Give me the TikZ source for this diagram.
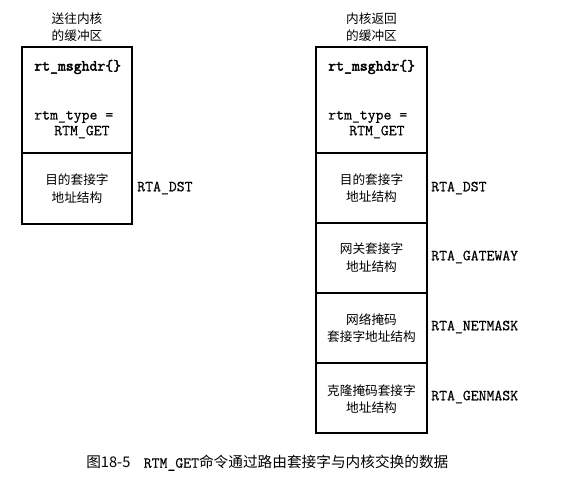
\documentclass[tikz,border=0pt]{standalone}
\usepackage{fontspec}
\newfontfamily\cjk{Noto Sans CJK SC}
\newfontfamily\codefont[FakeBold=0.6]{Latin Modern Mono}
\newfontfamily\codebold[FakeBold=2.5]{Latin Modern Mono}
\tikzset{
  cn/.style={font=\cjk\fontsize{9.5}{13}\selectfont, inner sep=0.75pt, align=center},
  code/.style={font=\codefont\fontsize{11.5}{12}\selectfont, anchor=west, inner sep=0.75pt},
  part/.style={line width=0.9}
}
\begin{document}
\begin{tikzpicture}[x=0.75pt,y=0.75pt,yscale=-1,xscale=1]
\path [use as bounding box] (0,0) rectangle (569,484);

%Shape: Rectangle (left buffer)
\draw [part] (22,47) rectangle (132,153) ;
\draw [part] (22,153) rectangle (132,224) ;
%Shape: Rectangle (right buffer)
\draw [part] (316,47) rectangle (427,153) ;
\draw [part] (316,153) rectangle (427,223) ;
\draw [part] (316,223) rectangle (427,293) ;
\draw [part] (316,293) rectangle (427,363) ;
\draw [part] (316,363) rectangle (427,433) ;

% Text Node
\node [cn] (lhead) at (77,27) {送往内核\\的缓冲区};
% Text Node
\node [cn] (rhead) at (371.5,27) {内核返回\\的缓冲区};

% Text Node
\node [code] (lmsg) at (33,67) {\codebold rt\_msghdr\{\}};
% Text Node
\node [code] (ltype) at (33,117) {rtm\_type =};
% Text Node
\node [code] (lget) at (53,132) {RTM\_GET};
% Text Node
\node [cn] (ldst) at (77,188.5) {目的套接字\\地址结构};
% Text Node
\node [code] (ldstlab) at (136,188) {RTA\_DST};

% Text Node
\node [code] (rmsg) at (327,67) {\codebold rt\_msghdr\{\}};
% Text Node
\node [code] (rtype) at (327,117) {rtm\_type =};
% Text Node
\node [code] (rget) at (348,132) {RTM\_GET};
% Text Node
\node [cn] (rdst) at (371.5,188) {目的套接字\\地址结构};
% Text Node
\node [code] (rdstlab) at (430,188) {RTA\_DST};
% Text Node
\node [cn] (rgw) at (371.5,257.5) {网关套接字\\地址结构};
% Text Node
\node [code] (rgwlab) at (430,257) {RTA\_GATEWAY};
% Text Node
\node [cn] (rnet) at (371.5,328) {网络掩码\\套接字地址结构};
% Text Node
\node [code] (rnetlab) at (430,327) {RTA\_NETMASK};
% Text Node
\node [cn] (rgen) at (371.5,399) {克隆掩码套接字\\地址结构};
% Text Node
\node [code] (rgenlab) at (430,397) {RTA\_GENMASK};

% Text Node
\node [anchor=west, inner sep=0.75pt] (caption) at (85,463) {\cjk\fontsize{11}{13}\selectfont 图18-5\hspace{10pt}{\codefont\fontsize{11.5}{12}\selectfont RTM\_GET}命令通过路由套接字与内核交换的数据};

\end{tikzpicture}
\end{document}
